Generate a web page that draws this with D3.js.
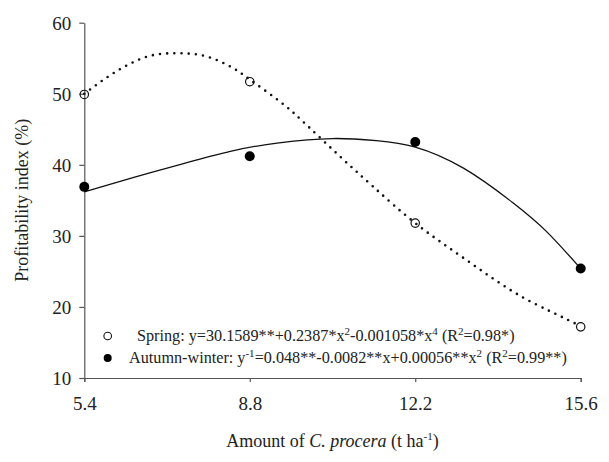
<!DOCTYPE html>
<html>
<head>
<meta charset="utf-8">
<script src="https://cdn.jsdelivr.net/npm/d3@7.9.0/dist/d3.min.js"></script>
<style>
  body { margin: 0; background: #fff; }
  svg text { font-family: "Liberation Serif", "DejaVu Serif", serif; fill: #222; }
</style>
</head>
<body>
<svg id="chart" width="609" height="462"></svg>
<script>
// x ticks and y ticks
const xTicks = [5.4, 8.8, 12.2, 15.6];
const yTicks = [10, 20, 30, 40, 50, 60];

// observed points
const doses = [5.4, 8.8, 12.2, 15.6];
const springObs = [49.9, 51.7, 31.8, 17.2];
const autumnObs = [36.9, 41.2, 43.2, 25.4];

// fitted curves
const springCurveX = [5.4, 6.0, 6.68, 7.3, 7.91, 8.46, 8.8, 9.42, 9.97, 10.65, 11.34, 12.2, 13.19, 14.2, 15.0, 15.6];
const springCurveY = [50.0, 52.9, 55.2, 55.7, 55.25, 53.6, 52.0, 48.9, 45.6, 41.2, 36.9, 31.8, 26.9, 22.2, 19.3, 17.3];
const autumnCurveX = [5.4, 6.4, 7.4, 8.4, 9.4, 10.5, 11.4, 12.2, 13.2, 14.2, 14.9, 15.6];
const autumnCurveY = [36.2, 38.2, 40.1, 41.9, 43.1, 43.7, 43.4, 42.5, 39.5, 34.7, 30.6, 25.4];

const svg = d3.select("#chart");

const x = d3.scaleLinear().domain([5.4, 15.6]).range([84.3, 580.7]);
const y = d3.scaleLinear().domain([10, 60]).range([378, 22.7]);

// axes
const xAxis = svg.append("g")
  .attr("transform", `translate(0,${y(10)})`)
  .call(d3.axisBottom(x).tickValues(xTicks).tickFormat(d3.format(".1f")).tickSizeInner(4).tickSizeOuter(4).tickPadding(11));
const yAxis = svg.append("g")
  .attr("transform", `translate(${x(5.4)},0)`)
  .call(d3.axisLeft(y).tickValues(yTicks).tickSizeInner(5).tickSizeOuter(0).tickPadding(8));

[xAxis, yAxis].forEach(a => {
  a.selectAll("path, line").attr("stroke", "#555").attr("stroke-width", 1.2);
  a.selectAll("text")
    .style("font-family", "'Liberation Serif', serif")
    .style("font-size", "19px")
    .attr("fill", "#222");
});
xAxis.selectAll("text").attr("dy", "0.9em");
yAxis.selectAll("text").attr("dy", "0.35em");

// curves
const line = d3.line().x(d => x(d[0])).y(d => y(d[1])).curve(d3.curveNatural);

svg.append("path")
  .datum(d3.zip(autumnCurveX, autumnCurveY))
  .attr("d", line)
  .attr("fill", "none")
  .attr("stroke", "#111")
  .attr("stroke-width", 1.3);

svg.append("path")
  .datum(d3.zip(springCurveX, springCurveY))
  .attr("d", line)
  .attr("fill", "none")
  .attr("stroke", "#111")
  .attr("stroke-width", 2.6)
  .attr("stroke-linecap", "round")
  .attr("stroke-dasharray", "0,7.2");

// points
svg.selectAll(".aut").data(d3.zip(doses, autumnObs)).enter()
  .append("circle")
  .attr("cx", d => x(d[0])).attr("cy", d => y(d[1]))
  .attr("r", 5).attr("fill", "#000");

svg.selectAll(".spr").data(d3.zip(doses, springObs)).enter()
  .append("circle")
  .attr("cx", d => x(d[0])).attr("cy", d => y(d[1]))
  .attr("r", 4.2).attr("fill", "none").attr("stroke", "#111").attr("stroke-width", 1.2);

// legend
const leg = svg.append("g").style("font-size", "16.2px");
leg.append("circle").attr("cx", 107.7).attr("cy", 336).attr("r", 3.8)
  .attr("fill", "#fff").attr("stroke", "#111").attr("stroke-width", 1.1);
leg.append("circle").attr("cx", 107.7).attr("cy", 358).attr("r", 4).attr("fill", "#000");

const t1 = leg.append("text").attr("x", 137).attr("y", 341);
t1.append("tspan").text("Spring: y=30.1589**+0.2387*x");
t1.append("tspan").attr("dy", -6).style("font-size", "11px").text("2");
t1.append("tspan").attr("dy", 6).text("-0.001058*x");
t1.append("tspan").attr("dy", -6).style("font-size", "11px").text("4");
t1.append("tspan").attr("dy", 6).text(" (R");
t1.append("tspan").attr("dy", -6).style("font-size", "11px").text("2");
t1.append("tspan").attr("dy", 6).text("=0.98*)");

const t2 = leg.append("text").attr("x", 129).attr("y", 363);
t2.append("tspan").text("Autumn-winter: y");
t2.append("tspan").attr("dy", -6).style("font-size", "11px").text("-1");
t2.append("tspan").attr("dy", 6).text("=0.048**-0.0082**x+0.00056**x");
t2.append("tspan").attr("dy", -6).style("font-size", "11px").text("2");
t2.append("tspan").attr("dy", 6).text(" (R");
t2.append("tspan").attr("dy", -6).style("font-size", "11px").text("2");
t2.append("tspan").attr("dy", 6).text("=0.99**)");

// axis titles
const xt = svg.append("text")
  .attr("x", x(10.5)).attr("y", 447)
  .attr("text-anchor", "middle")
  .style("font-size", "18px");
xt.append("tspan").text("Amount of ");
xt.append("tspan").style("font-style", "italic").text("C. procera");
xt.append("tspan").text(" (t ha");
xt.append("tspan").attr("dy", -7).style("font-size", "11px").text("-1");
xt.append("tspan").attr("dy", 7).text(")");

svg.append("text")
  .attr("transform", `translate(28,${(y(10) + y(60)) / 2}) rotate(-90)`)
  .attr("text-anchor", "middle")
  .style("font-size", "18px")
  .text("Profitability index (%)");
</script>
</body>
</html>
